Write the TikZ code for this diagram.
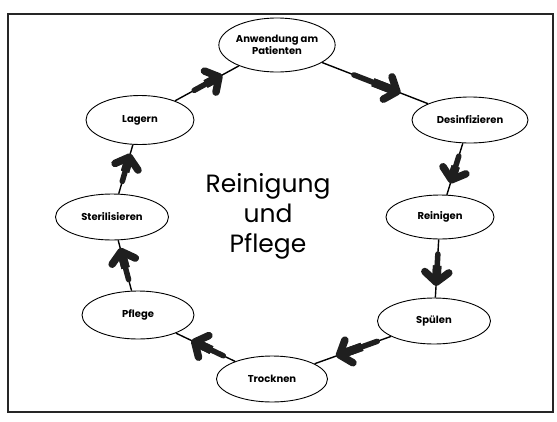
\documentclass[tikz,border=0pt]{standalone}
\usepackage{fontspec}
\setmainfont{Poppins}
\usetikzlibrary{arrows.meta,calc,shapes.geometric}
\begin{document}
\begin{tikzpicture}[x=1pt,y=-1pt,
  stage/.style={ellipse,draw,line width=0.9pt,inner sep=0pt,minimum width=#1,minimum height=46pt,
    font=\fontsize{10}{11.5}\selectfont\bfseries,align=center},
  conn/.style={draw,line width=1.4pt},
  tailpart/.style={line width=5.5pt,black!88,line cap=round},
  shaftpart/.style={line width=8.5pt,black!88},
  headpart/.style={line width=8.5pt,black!88,-{Straight Barb[length=10pt,width=24pt,line width'=7.5pt,round]}}
]
\useasboundingbox (0,0) rectangle (557,421);
\draw[line width=1.6pt,black!85] (8,14) rectangle (553,412);
\node[stage=116pt,minimum height=54pt] (anw) at (277,45) {Anwendung am\\Patienten};
\node[stage=116pt] (des) at (470,120) {Desinfizieren};
\node[stage=108pt,minimum height=44pt] (rei) at (440,217) {Reinigen};
\node[stage=113pt] (spu) at (434,321) {Spülen};
\node[stage=111pt] (tro) at (272,379) {Trocknen};
\node[stage=112pt,minimum height=48pt] (pfl) at (138,315) {Pflege};
\node[stage=113pt] (ste) at (112,217) {Sterilisieren};
\node[stage=108pt,minimum height=49pt] (lag) at (140,120) {Lagern};
\node[font=\fontsize{25}{30}\selectfont,align=center] (title) at (268,216) {Reinigung\\und\\Pflege};
\draw[conn] (lag) -- (anw) coordinate[pos=0.3] (a1s) coordinate[pos=0.48] (a1m) coordinate[pos=0.74] (a1e);
\draw[conn] (anw) -- (des) coordinate[pos=0.3] (a2s) coordinate[pos=0.48] (a2m) coordinate[pos=0.74] (a2e);
\draw[conn] (des) -- (rei) coordinate[pos=0.25] (a3s) coordinate[pos=0.45] (a3m) coordinate[pos=0.78] (a3e);
\draw[conn] (rei) -- (spu) coordinate[pos=0.25] (a4s) coordinate[pos=0.45] (a4m) coordinate[pos=0.8] (a4e);
\draw[conn] (spu) -- (tro) coordinate[pos=0.18] (a5s) coordinate[pos=0.38] (a5m) coordinate[pos=0.72] (a5e);
\draw[conn] (tro) -- (pfl) coordinate[pos=0.2] (a6s) coordinate[pos=0.4] (a6m) coordinate[pos=0.74] (a6e);
\draw[conn] (pfl) -- (ste) coordinate[pos=0.22] (a7s) coordinate[pos=0.45] (a7m) coordinate[pos=0.85] (a7e);
\draw[conn] (ste) -- (lag) coordinate[pos=0.25] (a8s) coordinate[pos=0.45] (a8m) coordinate[pos=0.82] (a8e);
\foreach \i in {1,...,8} {
  \draw[tailpart] (a\i s) -- (a\i m);
  \draw[shaftpart] (a\i m) -- ($(a\i m)!0.6!(a\i e)$);
  \draw[headpart] (a\i m) -- (a\i e);
}
\end{tikzpicture}
\end{document}
